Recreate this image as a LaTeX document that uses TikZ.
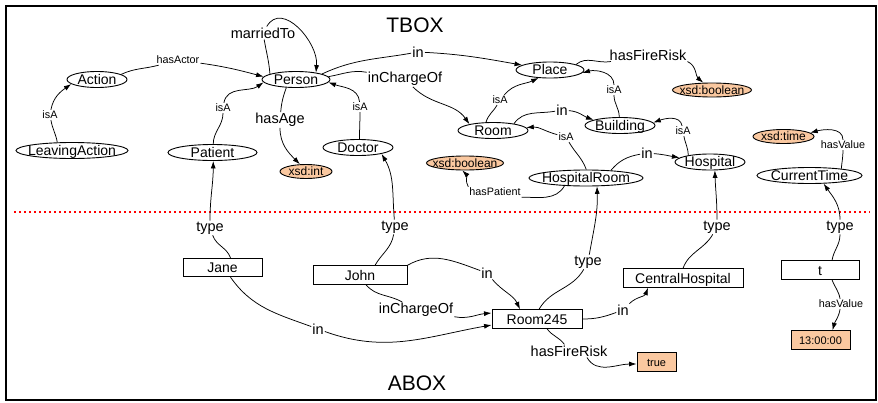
\documentclass[tikz,border=0pt]{standalone}
\usepackage{fontspec}
\setmainfont{Liberation Sans}
\usetikzlibrary{shapes.geometric,arrows.meta}
\definecolor{peach}{RGB}{250,200,160}
\newcommand\zb[1]{\makebox[0pt]{#1}}
\begin{document}
\begin{tikzpicture}[x=1pt,y=1pt,
  cls/.style={ellipse,draw,line width=0.9pt,inner sep=0pt,minimum height=16pt,text height=9.6pt,text depth=0pt,font=\fontsize{14}{14}\selectfont},
  lit/.style={ellipse,draw,line width=0.9pt,fill=peach,inner sep=0pt,minimum height=14pt,text height=8.6pt,text depth=0pt,font=\fontsize{12}{12}\selectfont},
  ind/.style={rectangle,draw,line width=0.9pt,inner sep=0pt,minimum height=18.5pt,text height=10pt,text depth=0pt,font=\fontsize{14}{14}\selectfont},
  litbox/.style={ind,fill=peach,font=\fontsize{11}{11}\selectfont,text height=8pt},
  lab/.style={inner sep=1pt,font=\fontsize{14.5}{14.5}\selectfont},
  slab/.style={inner sep=1pt,font=\fontsize{10.8}{10.8}\selectfont},
  arr/.style={line width=0.75pt,-{Latex[length=7.5pt,width=5pt]}},
  big/.style={font=\fontsize{21}{21}\selectfont}
]
\useasboundingbox (0,0) rectangle (878,-402);
\draw[line width=2pt] (5.5,-6) rectangle (876,-400);
\draw[red,line width=1.6pt,dash pattern=on 1.6pt off 3.4pt] (14,-212) -- (870,-212);

\node[big] (tbox) at (415,-25) {TBOX};
\node[big] (abox) at (417,-383) {ABOX};

% TBOX classes
\node[cls,minimum width=60pt] (action) at (97,-79.5) {\zb{Action}};
\node[cls,minimum width=112pt] (leaving) at (72,-150.5) {\zb{LeavingAction}};
\node[cls,minimum width=68pt] (person) at (296,-79.5) {\zb{Person}};
\node[cls,minimum width=89pt] (patient) at (212.5,-152.5) {\zb{Patient}};
\node[cls,minimum width=70pt] (doctor) at (358,-147.5) {\zb{Doctor}};
\node[lit,minimum width=52pt] (xint) at (306,-171.5) {\zb{xsd:int}};
\node[cls,minimum width=68pt] (place) at (550,-70) {\zb{Place}};
\node[cls,minimum width=70pt] (room) at (493,-130.5) {\zb{Room}};
\node[lit,minimum width=77pt] (xbool1) at (465,-163) {\zb{xsd:boolean}};
\node[cls,minimum width=114pt] (hroom) at (586,-178) {\zb{HospitalRoom}};
\node[cls,minimum width=70pt] (building) at (620,-125.5) {\zb{Building}};
\node[cls,minimum width=70pt] (hospital) at (710,-162) {\zb{Hospital}};
\node[lit,minimum width=79pt] (xbool2) at (712,-90) {\zb{xsd:boolean}};
\node[lit,minimum width=61pt] (xtime) at (783.5,-136.5) {\zb{xsd:time}};
\node[cls,minimum width=105pt] (ctime) at (809.5,-175.5) {\zb{CurrentTime}};

% ABOX individuals
\node[ind,minimum width=79pt] (jane) at (222.5,-267.5) {Jane};
\node[ind,minimum width=94pt] (john) at (360,-275) {John};
\node[ind,minimum width=90pt] (r245) at (537,-319) {Room245};
\node[ind,minimum width=120pt] (central) at (683,-278) {CentralHospital};
\node[litbox,minimum width=39pt] (true) at (656.5,-362) {true};
\node[ind,minimum width=78pt] (t) at (820,-270) {t};
\node[litbox,minimum width=59pt] (val) at (820.5,-340) {13:00:00};

% edge labels
\node[slab] (isA1) at (50,-115) {isA};
\node[slab] (hasActor) at (178,-60) {hasActor};
\node[slab] (isA2) at (223,-108) {isA};
\node[slab] (isA3) at (360,-107) {isA};
\node[lab] (married) at (263,-33) {marriedTo};
\node[lab] (hasAge) at (280,-120) {hasAge};
\node[lab] (in1) at (418,-52) {in};
\node[lab] (icof1) at (405,-79) {inChargeOf};
\node[slab] (isA4) at (500,-100) {isA};
\node[lab] (in2) at (562,-110) {in};
\node[slab] (isA5) at (614,-90) {isA};
\node[lab] (hfr1) at (648,-55) {hasFireRisk};
\node[slab] (isA6) at (566,-137) {isA};
\node[slab] (isA7) at (683,-131) {isA};
\node[lab] (in3) at (647,-153) {in};
\node[slab] (hasPat) at (495,-192) {hasPatient};
\node[slab] (hv1) at (843,-145) {hasValue};
\node[lab] (type1) at (210,-228) {type};
\node[lab] (in4) at (318,-329) {in};
\node[lab] (type2) at (395,-227) {type};
\node[lab] (in5) at (487,-273) {in};
\node[lab] (icof2) at (416,-310) {inChargeOf};
\node[lab] (type3) at (588,-262) {type};
\node[lab] (in6) at (623,-310) {in};
\node[lab] (hfr2) at (569,-351) {hasFireRisk};
\node[lab] (type4) at (717,-227) {type};
\node[lab] (type5) at (840,-227) {type};
\node[slab] (hv2) at (841,-304) {hasValue};

% TBOX edges
\draw[arr] (leaving.151) to[out=100,in=-80] (isA1) to[out=80,in=215] (action.190);
\draw[arr] (action.12) to[out=25,in=195] (hasActor) to[out=-8,in=165] (person.175);
\draw[arr] (patient.85) to[out=90,in=-90] (isA2) to[out=80,in=215] (person.185);
\draw[arr] (doctor.80) to[out=90,in=-90] (isA3) to[out=95,in=-20] (person.355);
\draw[arr] (person.168) to[out=95,in=-80] (married) to[out=60,in=85,looseness=1.15] (person.19);
\draw[arr] (person.220) to[out=-110,in=85] (hasAge) to[out=-90,in=135] (xint.130);
\draw[arr] (person.12) to[out=25,in=190] (in1) to[out=-3,in=170] (place.170);
\draw[arr] (person.5) to[out=10,in=170] (icof1) to[out=-45,in=125] (room.165);
\draw[arr] (room.130) to[out=75,in=-120] (isA4) to[out=50,in=205] (place.215);
\draw[arr] (room.18) to[out=55,in=190] (in2) to[out=-5,in=160] (building.168);
\draw[arr] (building.95) to[out=90,in=-90] (isA5) to[out=90,in=15] (place.355);
\draw[arr] (place.12) to[out=40,in=190] (hfr1) (hfr1.south east) to[out=-25,in=140] (xbool2.140);
\draw[arr] (hroom.88) to[out=110,in=-60] (isA6) to[out=165,in=5] (room.5);
\draw[arr] (hospital.163) to[out=90,in=-80] (isA7) to[out=100,in=20] (building.5);
\draw[arr] (hroom.17) to[out=50,in=190] (in3) to[out=-5,in=170] (hospital.172);
\draw[arr] (hroom.200) to[out=-120,in=0] (hasPat.south east) (hasPat.north west) to[out=120,in=-45] (xbool1.250);
\draw[arr] (ctime.12) to[out=85,in=-90] (hv1) to[out=90,in=15] (xtime.8);

% ABOX edges
\draw[arr] ([xshift=8pt]jane.north) to[out=110,in=-70] (type1) to[out=90,in=-90] (patient.275);
\draw[arr] ([xshift=8pt]jane.south) to[out=-55,in=160] (in4) to[out=-20,in=190] ([yshift=-6pt]r245.west);
\draw[arr] ([xshift=15pt]john.north) to[out=60,in=-100] (type2) to[out=95,in=-60] (doctor.345);
\draw[arr] (john.north east) to[out=30,in=160] (in5) to[out=-50,in=115] ([xshift=-17pt]r245.north);
\draw[arr] ([xshift=6pt]john.south) to[out=-50,in=150] (icof2) to[out=-10,in=185] ([yshift=6pt]r245.west);
\draw[arr] ([xshift=2pt]r245.north) to[out=60,in=-120] (type3) to[out=80,in=-88] (hroom.323);
\draw[arr] (r245.east) to[out=0,in=200] (in6) to[out=45,in=-110] ([xshift=-35pt]central.south);
\draw[arr] ([xshift=10pt]r245.south) to[out=-55,in=125] (hfr2) ([xshift=18pt]hfr2.south) to[out=-60,in=180] ([yshift=-2pt]true.west);
\draw[arr] (central.north) to[out=70,in=-120] (type4) to[out=90,in=-88] (hospital.300);
\draw[arr] ([xshift=12pt]t.north) to[out=80,in=-90] (type5) to[out=90,in=-55] (ctime.330);
\draw[arr] ([xshift=12pt]t.south) to[out=-70,in=100] (hv2) to[out=-100,in=75] ([xshift=12pt]val.north);
\end{tikzpicture}
\end{document}
